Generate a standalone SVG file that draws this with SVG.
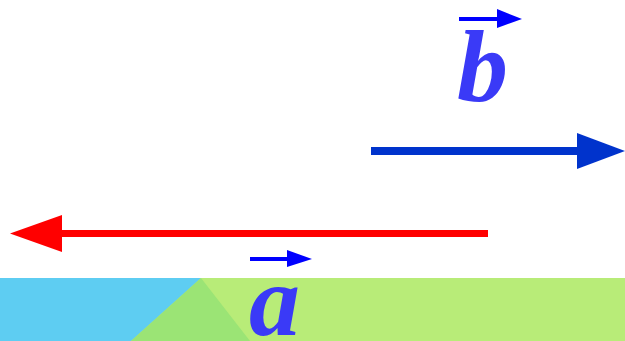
<svg xmlns="http://www.w3.org/2000/svg" width="625" height="341" viewBox="0 0 625 341">
<style>
.lbl{font-family:"Liberation Serif","Times New Roman",serif;font-weight:bold;font-style:italic;font-size:102px;fill:#3a3af7}
</style>
<rect width="625" height="341" fill="#ffffff"/>
<g id="ground">
<rect x="0" y="278" width="625" height="63" fill="#b8ec78"/>
<polygon points="0,278 201,278 131,341 0,341" fill="#5ecdf2"/>
<polygon points="201,278 131,341 250,341" fill="#9be475"/>
</g>
<g id="connectors">
<g id="vec-b">
<rect x="371" y="147" width="208" height="8" fill="#0033cc"/>
<polygon points="577,133 625,151 577,169" fill="#0033cc"/>
</g>
<g id="vec-a">
<rect x="62" y="230" width="426" height="7" fill="#ff0000"/>
<polygon points="62,215 10,233.5 62,252" fill="#ff0000"/>
</g>
</g>
<g id="label-b">
<rect x="459" y="17" width="39" height="4" fill="#0000ff"/>
<polygon points="497,9 522,19 497,28" fill="#0000ff"/>
<text class="lbl" x="457" y="101">b</text>
</g>
<g id="label-a">
<rect x="250" y="257" width="38" height="4" fill="#0000ff"/>
<polygon points="287,250 312,259 287,267" fill="#0000ff"/>
<text class="lbl" x="249" y="335">a</text>
</g>
</svg>
